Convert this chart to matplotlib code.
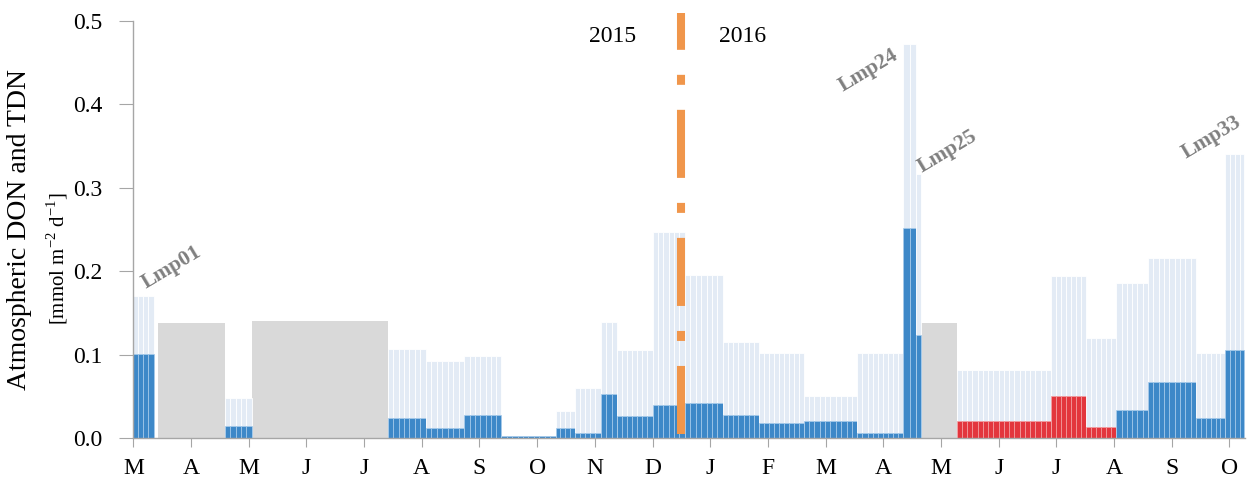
import numpy as np
import matplotlib
matplotlib.use('Agg')
import matplotlib.pyplot as plt
from matplotlib.ticker import FormatStrFormatter

plt.rcParams['font.family'] = ['Liberation Serif', 'DejaVu Serif']
plt.rcParams['mathtext.fontset'] = 'custom'
plt.rcParams['mathtext.rm'] = 'Liberation Serif'
plt.rcParams['lines.scale_dashes'] = False

# month labels, x unit = months since March 2015
months = ['M', 'A', 'M', 'J', 'J', 'A', 'S', 'O', 'N', 'D',
          'J', 'F', 'M', 'A', 'M', 'J', 'J', 'A', 'S', 'O']

# sampling periods (start, end in months) with TDN and DON fluxes
period_start = [0.00, 1.59, 4.41, 5.07, 5.74, 6.38, 7.32, 7.65, 8.10, 8.39, 9.00, 9.56, 10.22,
                10.85, 11.62, 12.55, 13.35, 13.56, 14.27, 15.91, 16.52, 17.04, 17.59, 18.42, 18.93]
period_end = [0.35, 2.05, 5.07, 5.74, 6.38, 7.32, 7.65, 8.10, 8.39, 9.00, 9.56, 10.22, 10.85,
              11.62, 12.55, 13.35, 13.56, 13.65, 15.91, 16.52, 17.04, 17.59, 18.42, 18.93, 19.26]
tdn = [0.170, 0.048, 0.107, 0.092, 0.098, 0.002, 0.032, 0.060, 0.139, 0.106, 0.247, 0.195, 0.115,
       0.102, 0.050, 0.102, 0.473, 0.317, 0.081, 0.194, 0.120, 0.186, 0.216, 0.102, 0.340]
don = [0.101, 0.014, 0.024, 0.012, 0.028, 0.002, 0.012, 0.0065, 0.053, 0.026, 0.039, 0.042, 0.028,
       0.018, 0.020, 0.006, 0.252, 0.124, 0.020, 0.050, 0.013, 0.034, 0.067, 0.024, 0.105]
red = [False] * 18 + [True, True, True] + [False] * 4

# periods without data (gray blocks)
gap_start = [0.42, 2.06, 13.66]
gap_end = [1.59, 4.41, 14.27]
gap_height = [0.138, 0.140, 0.138]

# sample labels
lmp_names = ['Lmp01', 'Lmp24', 'Lmp25', 'Lmp33']
lmp_x = [0.66, 12.75, 14.12, 18.69]
lmp_y = [0.205, 0.441, 0.344, 0.360]

year_break = 9.49

light = '#E3EBF5'
blue = '#3D88C8'
redc = '#E3363D'
grayc = '#D9D9D9'
orange = '#F0964B'
axisc = '#A6A6A6'

fig = plt.figure(figsize=(12.53, 4.93), dpi=100)
ax = fig.add_axes([0.1064, 0.1116, 0.8872, 0.8458])

# gray blocks
for s, e, h in zip(gap_start, gap_end, gap_height):
    ax.bar((s + e) / 2, h, width=e - s, color=grayc, linewidth=0)

# each period drawn as thin sub-bars
step = 0.09
for s, e, t, d, r in zip(period_start, period_end, tdn, don, red):
    n = max(1, int(round((e - s) / step)))
    w = (e - s) / n
    xs = s + w * (np.arange(n) + 0.5)
    ax.bar(xs, [t] * n, width=w, color=light, edgecolor='white', linewidth=0.6)
    ax.bar(xs, [d] * n, width=w, color=redc if r else blue, edgecolor='#A8CCEC' if not r else '#F2A0A3',
           linewidth=0.5)

# year break line
ax.plot([year_break, year_break], [0.005, 0.51], color=orange, lw=5.8,
        dashes=[49, 18, 7.2, 18], dash_capstyle='butt', clip_on=False, zorder=5)
ax.text(8.31, 0.482, '2015', fontsize=17, ha='center', va='center')
ax.text(10.56, 0.482, '2016', fontsize=17, ha='center', va='center')

for name, x, y in zip(lmp_names, lmp_x, lmp_y):
    ax.text(x, y, name, fontsize=15.5, fontweight='bold', color='#808080',
            rotation=31, ha='center', va='center', rotation_mode='anchor')

ax.set_xlim(0, 19.27)
ax.set_ylim(0, 0.5)
ax.set_xticks(np.arange(len(months)))
ax.set_xticklabels(months)
ax.set_yticks(np.arange(0, 0.51, 0.1))
ax.yaxis.set_major_formatter(FormatStrFormatter('%.1f'))

for side in ['top', 'right']:
    ax.spines[side].set_visible(False)
for side in ['left', 'bottom']:
    ax.spines[side].set_color(axisc)
    ax.spines[side].set_linewidth(1.0)
ax.tick_params(axis='y', direction='out', length=10, color=axisc, labelsize=17, pad=12)
ax.tick_params(axis='x', direction='out', length=6.5, color=axisc, labelsize=17, pad=8)

fig.text(20 / 1253, 1 - 230 / 493, 'Atmospheric DON and TDN', rotation=90,
         fontsize=20, ha='center', va='center')
fig.text(57 / 1253, 1 - 259 / 493, '[mmol m$^{\\mathrm{-2}}$ d$^{\\mathrm{-1}}$]', rotation=90,
         fontsize=15, ha='center', va='center')

fig.savefig('out.png', dpi=100)
